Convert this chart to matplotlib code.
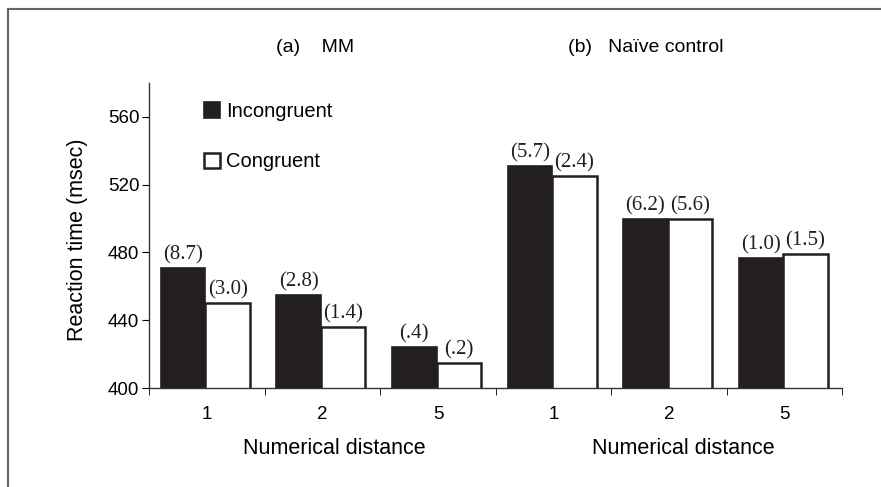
import numpy as np
import matplotlib.pyplot as plt
from matplotlib.patches import Patch
import matplotlib.lines as mlines

# reaction times (msec), MM groups then naive-control groups
distances = ['1', '2', '5', '1', '2', '5']
incongruent = [471, 455, 424, 531, 500, 477]
congruent = [450, 436, 415, 525, 500, 479]
incong_err = ['(8.7)', '(2.8)', '(.4)', '(5.7)', '(6.2)', '(1.0)']
cong_err = ['(3.0)', '(1.4)', '(.2)', '(2.4)', '(5.6)', '(1.5)']
panel_titles = ['(a)    MM', '(b)   Na\u00efve control']

sans = ['Liberation Sans', 'DejaVu Sans']
serif = ['Liberation Serif', 'DejaVu Serif']
plt.rcParams['font.family'] = sans

fig = plt.figure(figsize=(8.81, 4.87), dpi=100)
ax = fig.add_axes([149 / 881, 1 - 388 / 487, 693.5 / 881, 305 / 487])

x = np.arange(len(distances))
w = 0.385
b1 = ax.bar(x - 0.205, incongruent, w, color='#231f20',
            edgecolor='#231f20', linewidth=1.2, label='Incongruent')
b2 = ax.bar(x + 0.18, congruent, w, color='white', edgecolor='#231f20',
            linewidth=1.8, label='Congruent')

for bars, labels in [(b1, incong_err), (b2, cong_err)]:
    for rect, txt in zip(bars, labels):
        ax.annotate(txt, (rect.get_x() + rect.get_width() / 2, rect.get_height()),
                    xytext=(0, 2.5), textcoords='offset points', ha='center',
                    va='bottom', fontsize=15, family=serif, color='#231f20')

ax.set_ylim(400, 580)
ax.set_xlim(-0.5, 5.5)
ax.set_yticks([400, 440, 480, 520, 560])
ax.set_xticks(x)
ax.set_xticklabels(distances)
ax.set_xticks(np.arange(-0.5, 6, 1), minor=True)
ax.tick_params(axis='x', which='major', length=0, pad=13, labelsize=13.5)
ax.tick_params(axis='x', which='minor', length=5, direction='out')
ax.tick_params(axis='y', length=5, direction='out', labelsize=13.5, pad=2)
for s in ['top', 'right']:
    ax.spines[s].set_visible(False)
for s in ['left', 'bottom']:
    ax.spines[s].set_linewidth(1.0)
    ax.spines[s].set_color('#333333')

fig.text(77 / 881, 1 - 240 / 487, 'Reaction time (msec)', rotation=90,
         ha='center', va='center', fontsize=15.5)

# group labels under each panel
for xc in [1.1, 4.12]:
    ax.text(xc, -0.2, 'Numerical distance', transform=ax.get_xaxis_transform(),
            ha='center', va='center', fontsize=15.5)

for xf, t in zip([315, 646], panel_titles):
    fig.text(xf / 881, 1 - 47 / 487, t, ha='center', va='center', fontsize=14)

handles = [Patch(facecolor='#231f20', edgecolor='#231f20', linewidth=1.2),
           Patch(facecolor='white', edgecolor='#231f20', linewidth=1.8)]
ax.legend(handles, ['Incongruent', 'Congruent'], loc='upper left',
          bbox_to_anchor=(204 / 881, 1 - 102 / 487), bbox_transform=fig.transFigure,
          frameon=False, fontsize=14.5, handlelength=0.78, handleheight=0.78,
          handletextpad=0.3, labelspacing=1.55, borderpad=0, borderaxespad=0)

# page frame
fig.add_artist(mlines.Line2D([8 / 881, 8 / 881], [0, 1 - 9 / 487],
                             transform=fig.transFigure, color='#666666', lw=1.5))
fig.add_artist(mlines.Line2D([8 / 881, 1], [1 - 9 / 487, 1 - 9 / 487],
                             transform=fig.transFigure, color='#666666', lw=1.5))

fig.savefig('out.png', dpi=100)
